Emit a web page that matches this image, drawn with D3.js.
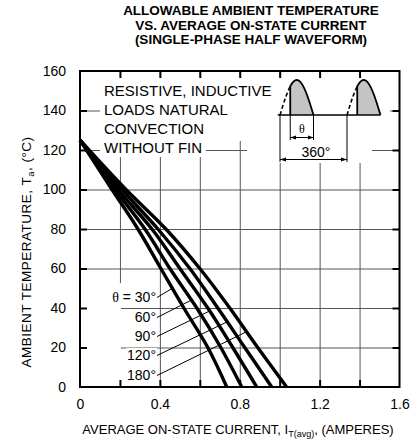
<!DOCTYPE html>
<html lang="en">
<head>
<meta charset="UTF-8">
<title>Allowable ambient temperature vs. average on-state current</title>
<script src="https://d3js.org/d3.v7.min.js"></script>
<style>
  body { margin: 0; background: #fff; }
  svg { display: block; font-family: "Liberation Sans", Arial, sans-serif; }
  .grid line { stroke: #555; stroke-width: 1; }
  .grid path, .tin path, .lab path { display: none; }
  .tin line { stroke: #000; stroke-width: 2; }
  .curve { fill: none; stroke: #000; stroke-width: 3.4; stroke-linejoin: round; }
  .lbl { font-size: 14px; fill: #000; }
</style>
</head>
<body>
<svg id="chart" width="418" height="444"></svg>
<script>
// temperature (°C) where the curves were read, current (A) per conduction angle
const temps  = [0, 20, 40, 60, 80, 100, 125];
const angles = ["30°", "60°", "90°", "120°", "180°"];
const cur30  = [0.735, 0.64, 0.52, 0.405, 0.29, 0.16, 0];
const cur60  = [0.81, 0.705, 0.585, 0.45, 0.325, 0.175, 0];
const cur90  = [0.885, 0.765, 0.64, 0.50, 0.36, 0.19, 0];
const cur120 = [0.96, 0.825, 0.69, 0.55, 0.39, 0.21, 0];
const cur180 = [1.035, 0.89, 0.75, 0.60, 0.43, 0.23, 0];
const series = [cur30, cur60, cur90, cur120, cur180];
const leaderT = [50, 44, 38.5, 33, 28];   // temperature where each label's leader meets its curve

const xTicks = [0, 0.4, 0.8, 1.2, 1.6];
const xGrid  = [0.2, 0.4, 0.6, 0.8, 1.0, 1.2, 1.4];
const yTicks = [0, 20, 40, 60, 80, 100, 120, 140, 160];
const yGrid  = [20, 40, 60, 80, 100, 120, 140];

const titleLines = ["ALLOWABLE AMBIENT TEMPERATURE", "VS. AVERAGE ON-STATE CURRENT", "(SINGLE-PHASE HALF WAVEFORM)"];
const noteLines  = ["RESISTIVE, INDUCTIVE", "LOADS NATURAL", "CONVECTION", "WITHOUT FIN"];

const svg = d3.select("#chart");
const x = d3.scaleLinear().domain([0, 1.6]).range([80, 399.5]);
const y = d3.scaleLinear().domain([0, 160]).range([387, 71]);
const [xl, xr] = x.range(), [yb, yt] = y.range();

// title
svg.append("g").selectAll("text").data(titleLines).join("text")
    .attr("x", 251).attr("y", (d, i) => 15 + i * 14.5)
    .attr("text-anchor", "middle")
    .style("font-size", "13.5px").style("font-weight", "bold")
    .text(d => d);

// grid
svg.append("g").attr("class", "grid").attr("transform", `translate(0,${yb})`)
    .call(d3.axisBottom(x).tickValues(xGrid).tickSize(-(yb - yt)).tickFormat(""));
svg.append("g").attr("class", "grid").attr("transform", `translate(${xl},0)`)
    .call(d3.axisLeft(y).tickValues(yGrid).tickSize(-(xr - xl)).tickFormat(""));

// white areas where the grid is blanked out behind notes and the sketch
const masks = [[100, 77, 176, 64], [100, 141, 106, 16], [272, 77, 118, 69], [247, 146, 125, 17], [81, 283, 40, 103]];
svg.append("g").selectAll("rect").data(masks).join("rect")
    .attr("x", d => d[0]).attr("y", d => d[1]).attr("width", d => d[2]).attr("height", d => d[3])
    .attr("fill", "#fff");

// inward ticks on all four sides
svg.append("g").attr("class", "tin").attr("transform", `translate(0,${yb})`)
    .call(d3.axisBottom(x).tickValues(xGrid).tickSize(-7).tickFormat(""));
svg.append("g").attr("class", "tin").attr("transform", `translate(0,${yt})`)
    .call(d3.axisTop(x).tickValues(xGrid).tickSize(-7).tickFormat(""));
svg.append("g").attr("class", "tin").attr("transform", `translate(${xl},0)`)
    .call(d3.axisLeft(y).tickValues(yGrid).tickSize(-7).tickFormat(""));
svg.append("g").attr("class", "tin").attr("transform", `translate(${xr},0)`)
    .call(d3.axisRight(y).tickValues(yGrid).tickSize(-7).tickFormat(""));

svg.append("rect")
    .attr("x", xl).attr("y", yt).attr("width", xr - xl).attr("height", yb - yt)
    .attr("fill", "none").attr("stroke", "#000").attr("stroke-width", 2);

// tick labels
const xa = svg.append("g").attr("class", "lab").attr("transform", `translate(0,${yb})`)
    .call(d3.axisBottom(x).tickValues(xTicks).tickSize(0).tickPadding(12).tickFormat(d => String(d)));
const ya = svg.append("g").attr("class", "lab").attr("transform", `translate(${xl},0)`)
    .call(d3.axisLeft(y).tickValues(yTicks).tickSize(0).tickPadding(14));
[xa, ya].forEach(g => g.attr("font-family", null).attr("font-size", null)
    .selectAll("text").style("font-size", "14px").attr("fill", "#000"));

// axis titles
const xt = svg.append("text").attr("x", 238).attr("y", 434).attr("text-anchor", "middle")
    .style("font-size", "13px");
xt.append("tspan").text("AVERAGE ON-STATE CURRENT, I");
xt.append("tspan").attr("dy", 3).style("font-size", "9px").text("T(avg)");
xt.append("tspan").attr("dy", -3).text(", (AMPERES)");

const yt2 = svg.append("text").attr("transform", "translate(31,252) rotate(-90)")
    .attr("text-anchor", "middle").style("font-size", "13.5px").style("letter-spacing", "0.5px");
yt2.append("tspan").text("AMBIENT TEMPERATURE, T");
yt2.append("tspan").attr("dy", 3).style("font-size", "9.5px").text("a");
yt2.append("tspan").attr("dy", -3).text(", (°C)");

// notes box
svg.append("g").selectAll("text").data(noteLines).join("text")
    .attr("x", 104).attr("y", (d, i) => 96 + i * 19)
    .style("font-size", "15px").text(d => d);

// curves
const line = d3.line().x(d => x(d[0])).y(d => y(d[1])).curve(d3.curveMonotoneY);
svg.append("g").selectAll("path").data(series).join("path")
    .attr("class", "curve")
    .attr("d", s => line(temps.map((t, i) => [s[i], t])));

// curve labels with leaders
const labelBase = [302, 322, 341, 360, 380];
const bgs = svg.append("g");
const labs = svg.append("g");
angles.forEach((a, k) => {
    const at = d3.scaleLinear().domain(temps).range(series[k]);
    const ex = x(at(leaderT[k])), ey = y(leaderT[k]);
    labs.append("line")
        .attr("x1", 157).attr("y1", labelBase[k] - 4.5).attr("x2", ex).attr("y2", ey)
        .attr("stroke", "#000").attr("stroke-width", 1);
    const t = labs.append("text").attr("class", "lbl")
        .attr("x", 156).attr("y", labelBase[k]).attr("text-anchor", "end");
    if (k === 0) {
        t.append("tspan").style("font-family", "'Liberation Serif', serif").text("θ");
        t.append("tspan").text(" = " + a);
    } else {
        t.text(a);
    }
    const b = t.node().getBBox();
    bgs.append("rect").attr("x", b.x - 1).attr("y", b.y + 1).attr("width", b.width + 2).attr("height", b.height - 2)
        .attr("fill", "#fff");
});

// waveform sketch
const defs = svg.append("defs");
defs.append("marker").attr("id", "arr").attr("viewBox", "0 0 10 10")
    .attr("refX", 10).attr("refY", 5).attr("markerWidth", 6).attr("markerHeight", 6)
    .attr("orient", "auto-start-reverse").attr("markerUnits", "userSpaceOnUse")
    .append("path").attr("d", "M0,1.5L10,5L0,8.5Z").attr("fill", "#000");

const ph = d3.scaleLinear().domain([0, 360]).range([280, 347]);
const amp = d3.scaleLinear().domain([0, 1]).range([115, 80]);
const fire = 55;
const sk = svg.append("g");
const sinPt = (off, a) => [ph(off + a), amp(Math.sin(a * Math.PI / 180))];

[0, 360].forEach(off => {
    sk.append("path")
        .attr("d", d3.area().x(d => d[0]).y0(amp(0)).y1(d => d[1])(d3.range(fire, 181, 5).map(a => sinPt(off, a))))
        .attr("fill", "#c4c4c4");
    sk.append("path")
        .attr("d", d3.line()(d3.range(0, fire + 1, 5).map(a => sinPt(off, a))))
        .attr("fill", "none").attr("stroke", "#000").attr("stroke-width", 1.6).attr("stroke-dasharray", "4,2.5");
    sk.append("path")
        .attr("d", d3.line()([[ph(off + fire), amp(0)], ...d3.range(fire, 181, 5).map(a => sinPt(off, a))]))
        .attr("fill", "none").attr("stroke", "#000").attr("stroke-width", 1.8);
});
sk.append("line").attr("x1", ph(-12)).attr("x2", ph(540)).attr("y1", amp(0)).attr("y2", amp(0))
    .attr("stroke", "#000").attr("stroke-width", 1.3);

const ext = [[ph(fire), 140], [ph(180), 140], [ph(0), 162], [ph(360), 162]];
sk.selectAll(".ext").data(ext).join("line")
    .attr("x1", d => d[0]).attr("x2", d => d[0]).attr("y1", amp(0)).attr("y2", d => d[1])
    .attr("stroke", "#000").attr("stroke-width", 1);
sk.append("line").attr("x1", ph(fire)).attr("x2", ph(180)).attr("y1", 137.5).attr("y2", 137.5)
    .attr("stroke", "#000").attr("marker-start", "url(#arr)").attr("marker-end", "url(#arr)");
sk.append("line").attr("x1", ph(0)).attr("x2", ph(360)).attr("y1", 159.5).attr("y2", 159.5)
    .attr("stroke", "#000").attr("marker-start", "url(#arr)").attr("marker-end", "url(#arr)");
sk.append("text").attr("x", (ph(fire) + ph(180)) / 2).attr("y", 133).attr("text-anchor", "middle")
    .style("font-family", "'Liberation Serif', serif").style("font-size", "12px").text("θ");
sk.append("text").attr("x", 316).attr("y", 156.5).attr("text-anchor", "middle")
    .style("font-size", "14px").text("360°");
</script>
</body>
</html>
